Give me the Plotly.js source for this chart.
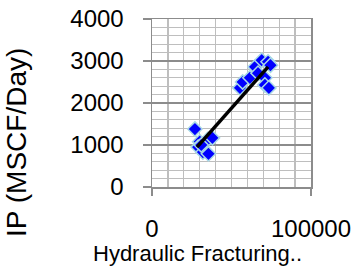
<!DOCTYPE html>
<html>
<head>
<meta charset="utf-8">
<script src="https://cdn.plot.ly/plotly-3.0.1.min.js"></script>
<style>
html,body{margin:0;padding:0;background:#fff;}
#chart{width:357px;height:267px;}
</style>
</head>
<body>
<div id="chart"></div>
<script>
// Data
const fracX = [27000, 30000, 35000, 38000, 29000, 32000, 35500, 31000,
               55300, 57000, 61600, 64800, 66700, 69000, 73000, 71000, 71000, 73500, 74500];
const ipY   = [1380, 1080, 1130, 1170, 950, 830, 790, 1000,
               2360, 2500, 2600, 2860, 2710, 3020, 2980, 2600, 2430, 2360, 2900];
const trendX = [28300, 73000];
const trendY = [950, 2860];
const xTickVals = [0, 100000];
const xTickText = ['0', '100000'];
const yTickVals = [0, 1000, 2000, 3000, 4000];
const yTickText = ['0', '1000', '2000', '3000', '4000'];
const xTitle = 'Hydraulic Fracturing..';
const yTitle = 'IP (MSCF/Day)';

const font = 'Liberation Sans, Arial, sans-serif';

const traces = [
  {
    x: fracX, y: ipY, type: 'scatter', mode: 'markers',
    marker: {symbol: 'diamond', size: 11, color: '#0000FF',
             line: {color: '#A8D8E6', width: 1.5}},
    hoverinfo: 'skip', showlegend: false
  },
  {
    x: trendX, y: trendY, type: 'scatter', mode: 'lines',
    line: {color: '#000000', width: 3.5},
    hoverinfo: 'skip', showlegend: false
  }
];

const layout = {
  width: 357, height: 267,
  margin: {l: 152, r: 46, t: 19, b: 80, pad: 0},
  paper_bgcolor: '#ffffff', plot_bgcolor: '#ffffff',
  font: {family: font, color: '#000000', size: 24},
  showlegend: false,
  xaxis: {
    range: [0, 100000], tickmode: 'array', tickvals: xTickVals, ticktext: xTickText,
    showgrid: true, gridcolor: '#BEBEBE', gridwidth: 1,
    minor: {dtick: 10000, showgrid: true, gridcolor: '#BEBEBE', gridwidth: 1.3},
    showline: true, linecolor: '#8C8C8C', linewidth: 1.5, mirror: true,
    ticks: 'outside', ticklen: 7, tickcolor: '#8C8C8C', tickwidth: 1.5,
    ticklabelstandoff: 13,
    tickfont: {size: 24, family: font, color: '#000'},
    zeroline: false, fixedrange: true
  },
  yaxis: {
    range: [0, 4000], tickmode: 'array', tickvals: yTickVals, ticktext: yTickText,
    showgrid: true, gridcolor: '#8C8C8C', gridwidth: 1.3,
    minor: {dtick: 200, showgrid: true, gridcolor: '#BEBEBE', gridwidth: 1},
    showline: true, linecolor: '#8C8C8C', linewidth: 1.5, mirror: true,
    ticks: 'outside', ticklen: 8, tickcolor: '#8C8C8C', tickwidth: 1.5,
    ticklabelstandoff: 14,
    tickfont: {size: 24, family: font, color: '#000'},
    zeroline: false, fixedrange: true
  },
  annotations: [
    {text: xTitle, xref: 'paper', yref: 'paper', x: (197-152)/159, y: -(253-187)/168,
     xanchor: 'center', yanchor: 'middle', showarrow: false,
     font: {size: 22, family: font, color: '#000'}},
    {text: yTitle, xref: 'paper', yref: 'paper', x: -(152-16)/159, y: (187-143)/168,
     xanchor: 'center', yanchor: 'middle', showarrow: false, textangle: -90,
     font: {size: 28, family: font, color: '#000'}}
  ]
};

Plotly.newPlot('chart', traces, layout, {staticPlot: true, displayModeBar: false});
</script>
</body>
</html>
